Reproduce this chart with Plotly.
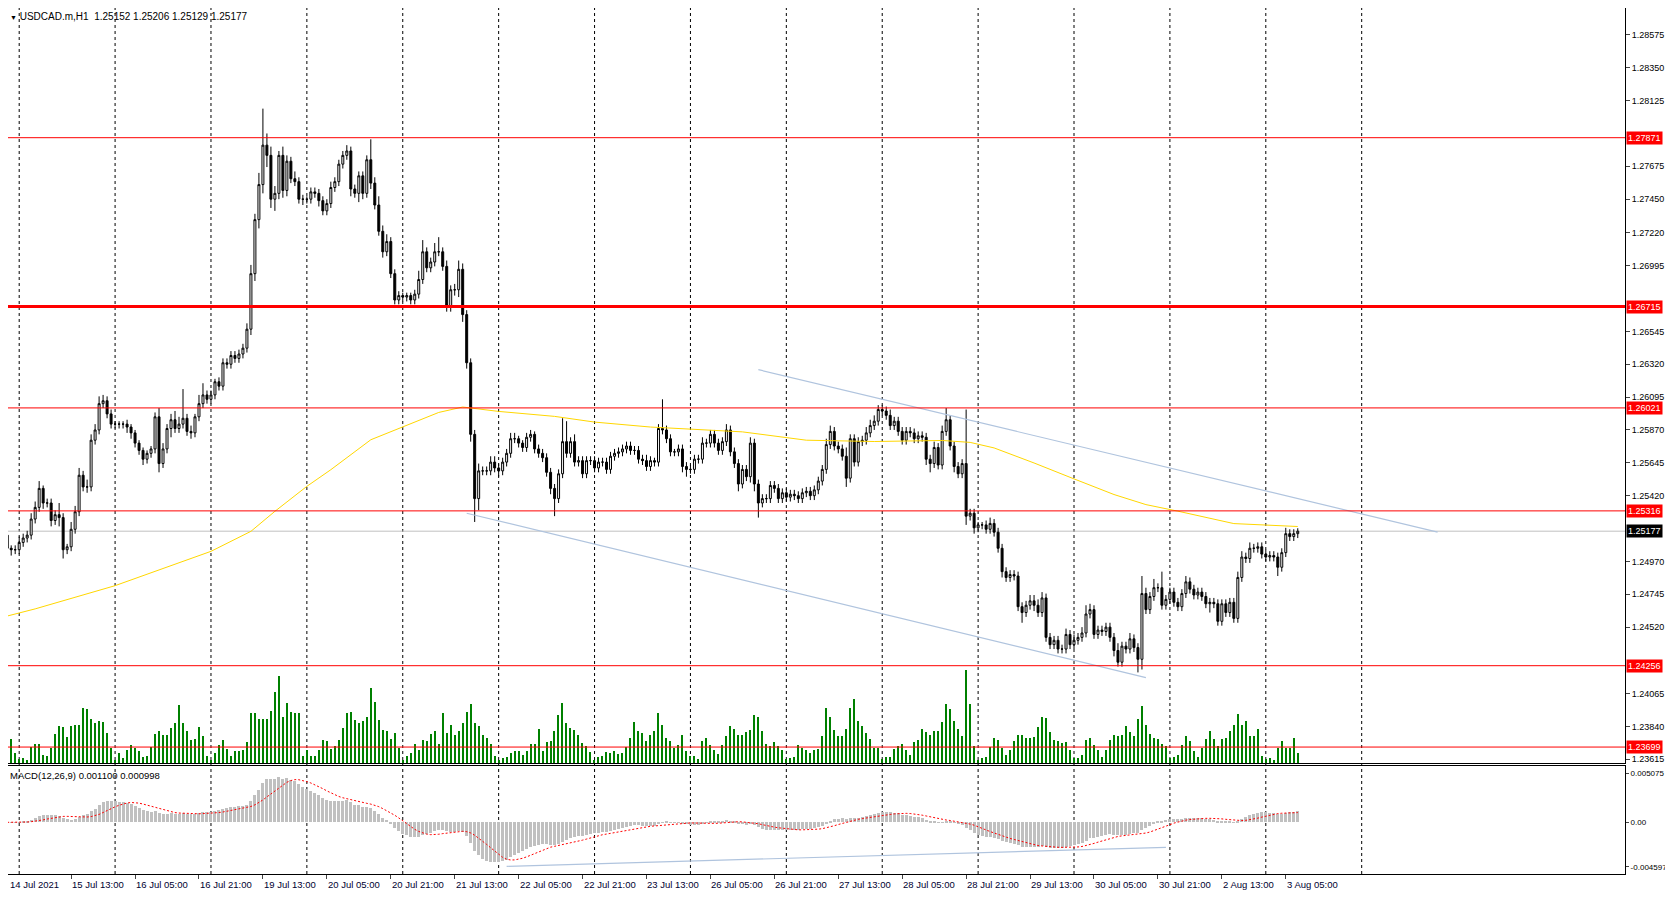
import plotly.graph_objects as go
import pandas as pd

# ---------------- data ----------------
first_open = 1.2515
closes = [
1.2506,1.2505,1.2505,1.2510,1.2513,1.2515,1.2526,1.2534,1.2547,1.2537,1.2537,1.2525,1.2529,1.2527,1.2505,1.2507,1.2519,1.2531,1.2556,1.2548,1.2548,1.2580,1.2587,1.2605,
1.2607,1.2598,1.2591,1.2591,1.2591,1.2591,1.2589,1.2585,1.2578,1.2573,1.2567,1.2571,1.2574,1.2596,1.2564,1.2574,1.2588,1.2594,1.2588,1.2591,1.2595,1.2586,1.2585,1.2596,
1.2605,1.2611,1.2608,1.2611,1.2620,1.2617,1.2633,1.2632,1.2638,1.2636,1.2639,1.2643,1.2656,1.2694,1.2731,1.2755,1.2782,1.2775,1.2745,1.2749,1.2775,1.2751,1.2771,1.2759,
1.2757,1.2745,1.2745,1.2745,1.2750,1.2749,1.2744,1.2737,1.2742,1.2753,1.2757,1.2769,1.2775,1.2778,1.2752,1.2749,1.2761,1.2749,1.2772,1.2756,1.2741,1.2723,1.2709,1.2716,
1.2694,1.2676,1.2679,1.2678,1.2679,1.2676,1.2680,1.2690,1.2709,1.2698,1.2702,1.2709,1.2709,1.2699,1.2672,1.2683,1.2683,1.2697,1.2666,1.2633,1.2584,1.2540,1.2559,1.2559,
1.2559,1.2565,1.2561,1.2559,1.2565,1.2571,1.2581,1.2581,1.2578,1.2575,1.2582,1.2584,1.2574,1.2571,1.2568,1.2558,1.2547,1.2540,1.2557,1.2579,1.2571,1.2579,1.2565,1.2566,
1.2557,1.2566,1.2566,1.2561,1.2565,1.2565,1.2560,1.2569,1.2571,1.2572,1.2574,1.2576,1.2573,1.2573,1.2567,1.2566,1.2562,1.2566,1.2565,1.2588,1.2587,1.2581,1.2572,1.2572,
1.2574,1.2562,1.2560,1.2560,1.2567,1.2567,1.2578,1.2578,1.2584,1.2578,1.2573,1.2579,1.2587,1.2572,1.2564,1.2550,1.2560,1.2555,1.2578,1.2550,1.2537,1.2540,1.2540,1.2549,
1.2547,1.2540,1.2544,1.2541,1.2543,1.2542,1.2540,1.2544,1.2545,1.2542,1.2546,1.2552,1.2560,1.2577,1.2586,1.2576,1.2574,1.2569,1.2554,1.2581,1.2565,1.2579,1.2580,1.2585,
1.2590,1.2593,1.2601,1.2600,1.2597,1.2590,1.2593,1.2586,1.2580,1.2586,1.2585,1.2581,1.2583,1.2582,1.2567,1.2564,1.2575,1.2563,1.2586,1.2594,1.2576,1.2562,1.2557,1.2564,
1.2528,1.2530,1.2520,1.2522,1.2522,1.2519,1.2523,1.2517,1.2506,1.2490,1.2486,1.2488,1.2487,1.2466,1.2462,1.2467,1.2470,1.2467,1.2462,1.2472,1.2445,1.2440,1.2443,1.2437,
1.2437,1.2447,1.2440,1.2443,1.2445,1.2448,1.2461,1.2464,1.2447,1.2450,1.2449,1.2452,1.2445,1.2436,1.2428,1.2439,1.2437,1.2444,1.2438,1.2430,1.2475,1.2464,1.2473,1.2479,
1.2479,1.2467,1.2471,1.2476,1.2469,1.2466,1.2475,1.2483,1.2478,1.2474,1.2476,1.2473,1.2468,1.2469,1.2468,1.2456,1.2468,1.2462,1.2469,1.2458,1.2486,1.2500,1.2499,1.2506,
1.2506,1.2507,1.2502,1.2500,1.2501,1.2500,1.2493,1.2503,1.2516,1.2514,1.2516,1.25177,
]
upper_wick_pips = [
3,2,3,4,3,3,4,4,5,2,3,3,3,8,3,2,5,4,5,3,5,4,4,5,
4,3,3,2,2,2,3,2,2,2,2,2,2,3,6,4,3,4,6,5,20,3,4,2,
6,8,3,3,2,3,3,3,3,3,3,3,4,6,4,8,25,8,6,5,3,6,4,3,
5,3,3,2,3,3,3,3,3,4,3,3,3,4,3,3,3,3,3,14,4,6,4,5,
3,3,3,2,2,2,3,6,8,3,3,6,10,3,4,3,4,6,4,3,3,3,5,3,
3,4,4,3,3,3,4,4,2,2,3,3,2,3,3,3,3,3,3,16,14,3,5,3,
3,3,3,3,3,3,3,3,3,3,3,3,3,3,3,3,4,3,2,3,20,3,3,2,
3,3,3,3,3,3,4,3,3,3,3,3,4,3,3,3,3,3,4,3,3,3,3,3,
3,3,3,3,3,3,3,3,3,3,3,3,3,4,4,3,3,3,6,3,3,3,3,4,
4,4,3,3,3,4,3,3,3,3,3,3,3,3,3,3,4,3,4,8,3,3,3,3,
37,3,3,2,2,3,4,3,3,3,3,3,3,3,3,3,4,4,4,4,3,3,3,3,
3,4,3,4,3,4,6,4,3,3,3,3,3,3,5,3,3,4,3,3,12,4,3,6,
3,11,3,3,3,3,3,4,3,3,3,3,3,3,3,3,3,3,3,3,4,4,3,4,
3,3,3,3,3,3,3,3,4,3,3,2,
]
lower_wick_pips = [
4,4,3,3,3,3,3,3,3,4,3,4,3,6,6,3,3,3,3,3,4,3,3,3,
3,3,3,3,3,3,4,4,3,3,4,3,3,3,6,3,3,6,3,3,3,3,4,3,
3,3,3,3,3,3,3,3,3,3,3,3,3,4,5,6,6,8,6,8,4,5,4,3,
3,3,4,3,3,3,4,3,3,3,3,3,3,3,5,3,6,4,3,4,3,3,4,3,
3,3,3,3,3,3,3,3,3,3,3,3,3,3,4,4,4,5,5,4,5,16,8,3,
3,3,3,4,3,3,3,3,3,3,3,3,3,3,3,3,4,12,3,3,3,3,3,3,
3,3,3,3,3,3,3,3,3,3,3,3,3,3,3,3,3,3,3,3,3,3,3,3,
3,4,5,3,3,3,3,3,3,3,3,3,3,3,3,5,3,3,4,5,10,3,3,3,
3,3,3,3,3,3,3,3,3,3,3,3,3,3,3,3,3,3,6,3,3,3,3,3,
3,3,3,3,3,3,3,3,3,3,3,3,3,3,4,6,3,3,3,3,3,4,3,3,
6,3,4,3,3,3,3,3,3,4,3,3,3,3,7,3,3,4,3,3,3,3,3,3,
3,3,3,3,3,3,3,3,3,3,3,3,3,4,3,3,3,3,3,9,7,3,3,3,
3,3,3,3,3,3,3,3,3,3,3,3,3,6,3,3,3,3,3,3,3,3,3,3,
3,3,3,3,3,3,6,3,3,3,3,3,
]
volumes = [
88,73,30,12,15,8,48,58,58,25,20,45,88,110,107,78,110,115,113,167,163,133,120,127,
123,90,45,10,30,15,40,55,45,35,18,22,48,88,95,85,85,105,120,175,120,95,70,72,
107,82,20,8,30,55,70,43,20,35,35,40,62,150,152,132,132,132,158,215,262,140,180,155,
150,150,22,40,20,20,38,68,67,43,50,70,105,150,153,128,120,127,140,225,185,130,100,97,
73,90,45,10,22,30,58,40,70,65,88,95,58,150,90,115,85,95,120,155,177,120,110,85,
75,58,20,10,15,18,30,35,35,25,35,58,58,102,35,62,65,95,145,180,120,105,100,85,
60,50,32,10,18,20,32,30,35,28,30,48,75,122,95,90,65,85,97,152,115,75,65,45,
55,85,35,20,22,12,65,75,55,38,28,55,82,110,102,85,85,93,100,145,140,95,58,52,
62,52,40,12,15,17,55,45,40,30,40,42,80,167,137,98,80,82,103,167,193,125,110,90,
72,45,45,12,17,17,43,50,58,40,25,62,70,103,93,85,95,95,123,178,163,125,103,80,
280,178,52,10,15,18,47,75,68,45,25,40,65,85,85,75,75,77,107,138,135,92,70,67,
60,62,40,15,15,25,70,75,55,38,18,40,70,85,80,85,112,93,82,132,172,115,87,75,
72,58,52,14,18,25,55,82,65,37,18,45,72,95,73,52,73,75,95,115,148,115,127,82,
82,102,22,12,15,8,45,67,45,45,75,30,
]
# moving average (yellow), read at sample bars
ma_bar = [0, 7, 27, 51, 61, 67, 75, 81, 91, 99, 108, 114, 123, 137, 147, 161, 184, 200, 217, 234, 241, 247, 257, 267, 277, 285, 293, 307, 323]
ma_val = [1.24596, 1.24645, 1.24804, 1.25039, 1.25176, 1.25313, 1.25484, 1.25598, 1.25803, 1.25890, 1.25990, 1.26027,
          1.25997, 1.25963, 1.25924, 1.25890, 1.25857, 1.25800, 1.25791, 1.25798, 1.25785, 1.25747, 1.25644, 1.25535,
          1.25428, 1.25359, 1.25314, 1.25229, 1.25209]
hlines = [1.27871, 1.26715, 1.26021, 1.25316, 1.24256, 1.23699]
hline_widths = [1, 3, 1, 1, 1, 1]
current_price = 1.25177
trend_upper = ([188, 358], [1.26283, 1.25171])
trend_lower = ([115, 285], [1.25300, 1.24174])
macd_trend = ([125, 290], [-0.00453, -0.00258])
price_ticks = [1.28575, 1.28350, 1.28125, 1.27675, 1.27450, 1.27220, 1.26995, 1.26545, 1.26320,
               1.26095, 1.25870, 1.25645, 1.25420, 1.24970, 1.24745, 1.24520, 1.24065, 1.23840, 1.23615]
date_labels = ["14 Jul 2021", "15 Jul 13:00", "16 Jul 05:00", "16 Jul 21:00", "19 Jul 13:00", "20 Jul 05:00",
               "20 Jul 21:00", "21 Jul 13:00", "22 Jul 05:00", "22 Jul 21:00", "23 Jul 13:00", "26 Jul 05:00",
               "26 Jul 21:00", "27 Jul 13:00", "28 Jul 05:00", "28 Jul 21:00", "29 Jul 13:00", "30 Jul 05:00",
               "30 Jul 21:00", "2 Aug 13:00", "3 Aug 05:00"]
day_start_bars = [3, 27, 51, 75, 99, 123, 147, 171, 195, 219, 243, 267, 291, 315, 339]

# ---------------- derived ----------------
n = len(closes)
x = list(range(n))
opens = [first_open] + closes[:-1]
highs = [max(o, c) + u * 0.0001 for o, c, u in zip(opens, closes, upper_wick_pips)]
lows = [min(o, c) - l * 0.0001 for o, c, l in zip(opens, closes, lower_wick_pips)]
s = pd.Series(closes)
macd = s.ewm(span=12, adjust=False).mean() - s.ewm(span=26, adjust=False).mean()
signal = macd.rolling(9, min_periods=1).mean()

FONT = "Liberation Sans"
fig = go.Figure()

fig.add_trace(go.Bar(x=x, y=volumes, marker=dict(color="#008000", line=dict(width=0)), width=0.3,
                     xaxis="x", yaxis="y3", showlegend=False, hoverinfo="skip"))
fig.add_trace(go.Scatter(x=ma_bar, y=ma_val, mode="lines", line=dict(color="#FFD700", width=1),
                         xaxis="x", yaxis="y", showlegend=False))
for tx, ty in (trend_upper, trend_lower):
    fig.add_trace(go.Scatter(x=tx, y=ty, mode="lines", line=dict(color="#B0C4DE", width=1.2),
                             xaxis="x", yaxis="y", showlegend=False))
fig.add_trace(go.Candlestick(x=x, open=opens, high=highs, low=lows, close=closes,
                             increasing=dict(line=dict(color="black", width=1), fillcolor="white"),
                             decreasing=dict(line=dict(color="black", width=1), fillcolor="black"),
                             whiskerwidth=0, xaxis="x", yaxis="y", showlegend=False))
fig.add_trace(go.Bar(x=x, y=list(macd), marker=dict(color="#C0C0C0", line=dict(width=0)), width=0.75,
                     xaxis="x2", yaxis="y2", showlegend=False))
fig.add_trace(go.Scatter(x=x, y=list(signal), mode="lines", line=dict(color="red", width=1, dash="2px,2px"),
                         xaxis="x2", yaxis="y2", showlegend=False))
fig.add_trace(go.Scatter(x=macd_trend[0], y=macd_trend[1], mode="lines", line=dict(color="#B0C4DE", width=1.2),
                         xaxis="x2", yaxis="y2", showlegend=False))

shapes = []
for d in day_start_bars:
    shapes.append(dict(type="line", xref="x", yref="paper", x0=d, x1=d, y0=0, y1=1,
                       line=dict(color="black", width=1, dash="3px,3px"), layer="below"))
for v, w in zip(hlines, hline_widths):
    shapes.append(dict(type="line", xref="paper", yref="y", x0=0, x1=1, y0=v, y1=v,
                       line=dict(color="red", width=w)))
shapes.append(dict(type="line", xref="paper", yref="y", x0=0, x1=1, y0=current_price, y1=current_price,
                   line=dict(color="#C0C0C0", width=1), layer="below"))

ann = []
for v in hlines:
    ann.append(dict(xref="paper", yref="y", x=1, y=v, xanchor="left", xshift=1, text=f"{v:.5f}",
                    showarrow=False, bgcolor="red", font=dict(color="white", size=9, family=FONT), borderpad=1))
ann.append(dict(xref="paper", yref="y", x=1, y=current_price, xanchor="left", xshift=1, text=f"{current_price:.5f}",
                showarrow=False, bgcolor="black", font=dict(color="white", size=9, family=FONT), borderpad=1))
for k, lab in enumerate(date_labels):
    if k == 0:
        ann.append(dict(xref="paper", yref="paper", x=0, y=0, yanchor="top", xanchor="left", yshift=-3,
                        text=lab, showarrow=False, font=dict(color="#000030", size=9.5, family=FONT)))
    else:
        ann.append(dict(xref="x", yref="paper", x=16 * k, y=0, yanchor="top", xanchor="left", yshift=-3, xshift=-1,
                        text=lab, showarrow=False, font=dict(color="#000030", size=9.5, family=FONT)))
ann.append(dict(xref="paper", yref="paper", x=0, y=1, xanchor="left", yanchor="top", xshift=0, yshift=-1,
                text="<span style='font-size:7px'>▼</span> USDCAD.m,H1  1.25152 1.25206 1.25129 1.25177",
                showarrow=False, font=dict(color="black", size=10, family=FONT)))
ann.append(dict(xref="paper", yref="paper", x=0, y=0.1247, xanchor="left", yanchor="top", xshift=0, yshift=-2,
                text="MACD(12,26,9) 0.001100 0.000998",
                showarrow=False, font=dict(color="black", size=9.5, family=FONT)))

xr = [0.2, 404.9]
fig.update_layout(
    width=1665, height=889, margin=dict(l=0, r=48, t=0, b=23),
    paper_bgcolor="white", plot_bgcolor="white", bargap=0,
    font=dict(family=FONT, size=9, color="black"),
    xaxis=dict(domain=[0, 1], range=xr, showgrid=False, zeroline=False, showticklabels=False,
               rangeslider=dict(visible=False), showline=True, mirror=True, linecolor="black", anchor="y"),
    xaxis2=dict(domain=[0, 1], range=xr, showgrid=False, zeroline=False, showticklabels=False,
                tickvals=[16 * k for k in range(len(date_labels))], ticks="outside", ticklen=4,
                showline=True, mirror=True, linecolor="black", anchor="y2", matches="x"),
    yaxis=dict(domain=[0.1282, 1], range=[1.23590, 1.28759], side="right", showgrid=False, zeroline=False,
               tickvals=price_ticks, ticktext=[f"{t:.5f}" for t in price_ticks], ticks="outside", ticklen=4,
               showline=True, mirror=True, linecolor="black", tickfont=dict(size=9, family=FONT)),
    yaxis2=dict(domain=[0, 0.1247], range=[-0.005317, 0.005795], side="right", showgrid=False, zeroline=False,
                tickvals=[0.005075, 0.0, -0.004597], ticktext=["0.005075", "0.00", "-0.004597"],
                ticks="outside", ticklen=3, showline=True, mirror=True, linecolor="black",
                tickfont=dict(size=8, family=FONT)),
    yaxis3=dict(overlaying="y", range=[0, 2274], visible=False),
    shapes=shapes, annotations=ann,
)
fig.write_html("out.html")
